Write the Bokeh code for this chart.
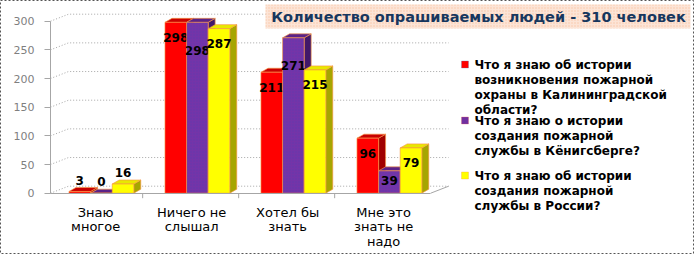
from bokeh.plotting import figure
from bokeh.models import Range1d, LinearAxis, FixedTicker, Label, BoxAnnotation
from bokeh.embed import file_html
from bokeh.resources import INLINE
from bokeh.core.properties import value
import numpy as np

# ---------------- data ----------------
categories = ["Знаю\nмногое", "Ничего не\nслышал", "Хотел бы\nзнать", "Мне это\nзнать не\nнадо"]
series_names = [
    "Что я знаю об истории\nвозникновения пожарной\nохраны в Калининградской\nобласти?",
    "Что я знаю о истории\nсоздания пожарной\nслужбы в Кёнигсберге?",
    "Что я знаю об истории\nсоздания пожарной\nслужбы в России?",
]
red_vals = [3, 298, 211, 96]
purple_vals = [0, 298, 271, 39]
yellow_vals = [16, 287, 215, 79]
y_ticks = [0, 50, 100, 150, 200, 250, 300]
title_text = "Количество опрашиваемых людей - 310 человек"

# ---------------- geometry (screen mapping) ----------------
W, H = 694, 254
PX_X = 96.0            # pixels per category
PX_Y = 172.0 / 300.0   # pixels per unit
X0, Y0 = 50.0, 192.7   # front axis origin in pixels

FONT = "DejaVu Sans"

p = figure(width=W, height=H, output_backend="svg", toolbar_location=None,
           x_axis_location=None, y_axis_location=None,
           x_range=Range1d(-X0 / PX_X, (W - X0) / PX_X),
           y_range=Range1d(-(H - Y0) / PX_Y, Y0 / PX_Y),
           min_border=0, background_fill_color="white", border_fill_color="white")
p.outline_line_color = "#555555"
p.outline_line_dash = "2 2"
p.outline_line_width = 1
p.grid.visible = False

n = len(categories)
centers = np.arange(n) + 0.53
front_end = 3.96
wall_dx = 18 / PX_X
wall_dy = 7 / PX_Y
back_end = front_end + wall_dx

# back wall gridlines (with left-wall diagonal)
gx, gy = [], []
for t in y_ticks:
    gx.append([0, wall_dx, back_end])
    gy.append([t, t + wall_dy, t + wall_dy])
p.multi_line(gx, gy, line_color="#A6A6A6", line_width=1, line_dash="1 2")
# floor right edge
p.line([front_end, back_end], [0, wall_dy], line_color="#A6A6A6", line_width=1)
# category boundary tick marks on the floor front edge
bnd = np.arange(1, n) - 0.04
p.segment(x0=bnd, y0=0, x1=bnd, y1=-5 / PX_Y, line_color="#A6A6A6", line_width=1)

# ---------------- 3D bars ----------------
bw = 0.225
bar_dx = 7 / PX_X
bar_dy = 4 / PX_Y
series = [
    (red_vals, -bw, "#FF0000", "#C80000", "#A00000", None, 15),
    (purple_vals, 0.0, "#7434A8", "#5A2288", "#42186A", "dot", 28),
    (yellow_vals, bw, "#FFFF00", "#E8E800", "#A6A600", None, 15),
]
for vals, off, c_front, c_top, c_side, hatch, lab_px in series:
    v = np.array(vals, dtype=float)
    xl = centers + off - bw / 2
    xr = xl + bw
    side_xs = [[r, r + bar_dx, r + bar_dx, r] for r in xr]
    side_ys = [[0, bar_dy, t + bar_dy, t] for t in v]
    p.patches(side_xs, side_ys, fill_color=c_side, line_color="#F79646", line_width=0.8, line_alpha=0.8)
    top_xs = [[l, l + bar_dx, r + bar_dx, r] for l, r in zip(xl, xr)]
    top_ys = [[t, t + bar_dy, t + bar_dy, t] for t in v]
    p.patches(top_xs, top_ys, fill_color=c_top, line_color="#F79646", line_width=0.8, line_alpha=0.8)
    kw = {}
    if hatch:
        kw = dict(hatch_pattern=hatch, hatch_color="#3C3CB4", hatch_alpha=0.35, hatch_scale=3)
    p.quad(left=xl, right=xr, bottom=0, top=v, fill_color=c_front,
           line_color="#F79646", line_width=0.8, line_alpha=0.8, **kw)
    # data labels
    inside = np.maximum(v - lab_px / PX_Y, v * 0.55)
    ly = np.where(v >= 30, inside, v + 20)
    p.text(x=centers + off, y=ly, text=[str(int(a)) for a in vals],
           text_font=value(FONT), text_font_size="12px", text_font_style="bold",
           text_color="#000000", text_align="center", text_baseline="middle")

# ---------------- axes ----------------
yax = LinearAxis(fixed_location=0, bounds=(0, 300), ticker=FixedTicker(ticks=y_ticks))
yax.axis_line_color = "#A6A6A6"
yax.major_tick_line_color = "#A6A6A6"
yax.major_tick_out = 6
yax.major_tick_in = 0
yax.minor_tick_line_color = None
yax.major_label_standoff = 10
yax.major_label_text_font = FONT
yax.major_label_text_font_size = "11px"
yax.major_label_text_color = "#7F7F7F"
p.add_layout(yax, "left")

xticks = [float(np.round(c - 0.06, 3)) for c in centers]
xax = LinearAxis(fixed_location=0, bounds=(0, front_end), ticker=FixedTicker(ticks=xticks),
                 major_label_overrides={t: lab for t, lab in zip(xticks, categories)})
xax.axis_line_color = "#A6A6A6"
xax.major_tick_line_color = None
xax.minor_tick_line_color = None
xax.major_label_standoff = 6
xax.major_label_text_font = FONT
xax.major_label_text_font_size = "13px"
xax.major_label_text_color = "#000000"
xax.major_label_text_line_height = 0.95
p.add_layout(xax, "below")

# ---------------- title ----------------
p.add_layout(BoxAnnotation(left=265, right=690, bottom=H - 28, top=H - 4,
                           left_units="screen", right_units="screen",
                           bottom_units="screen", top_units="screen",
                           fill_color="#FCE4D6", fill_alpha=1.0, line_color=None,
                           hatch_pattern="dot", hatch_color="#F4B183", hatch_alpha=0.6, hatch_scale=3))
p.add_layout(Label(x=478, y=H - 16, x_units="screen", y_units="screen", text=title_text,
                   text_font=FONT, text_font_size="14.5px", text_font_style="bold",
                   text_color="#17375E", text_align="center", text_baseline="middle"))

# ---------------- legend ----------------
leg_colors = ["#FF0000", "#7030A0", "#FFFF00"]
leg_borders = ["#4F81BD", "#E06060", "#F79646"]
leg_y = [64, 120, 175]
for name, col, bc, yy in zip(series_names, leg_colors, leg_borders, leg_y):
    p.add_layout(BoxAnnotation(left=461, right=468, bottom=H - yy - 3.5, top=H - yy + 3.5,
                               left_units="screen", right_units="screen",
                               bottom_units="screen", top_units="screen",
                               fill_color=col, fill_alpha=1.0, line_color=bc, line_width=1))
    p.add_layout(Label(x=474, y=H - yy + 7, x_units="screen", y_units="screen", text=name,
                       text_font=FONT, text_font_size="12px", text_font_style="bold",
                       text_color="#000000", text_align="left", text_baseline="top",
                       text_line_height=1.08))

open("out.html", "w").write(file_html(p, INLINE))
